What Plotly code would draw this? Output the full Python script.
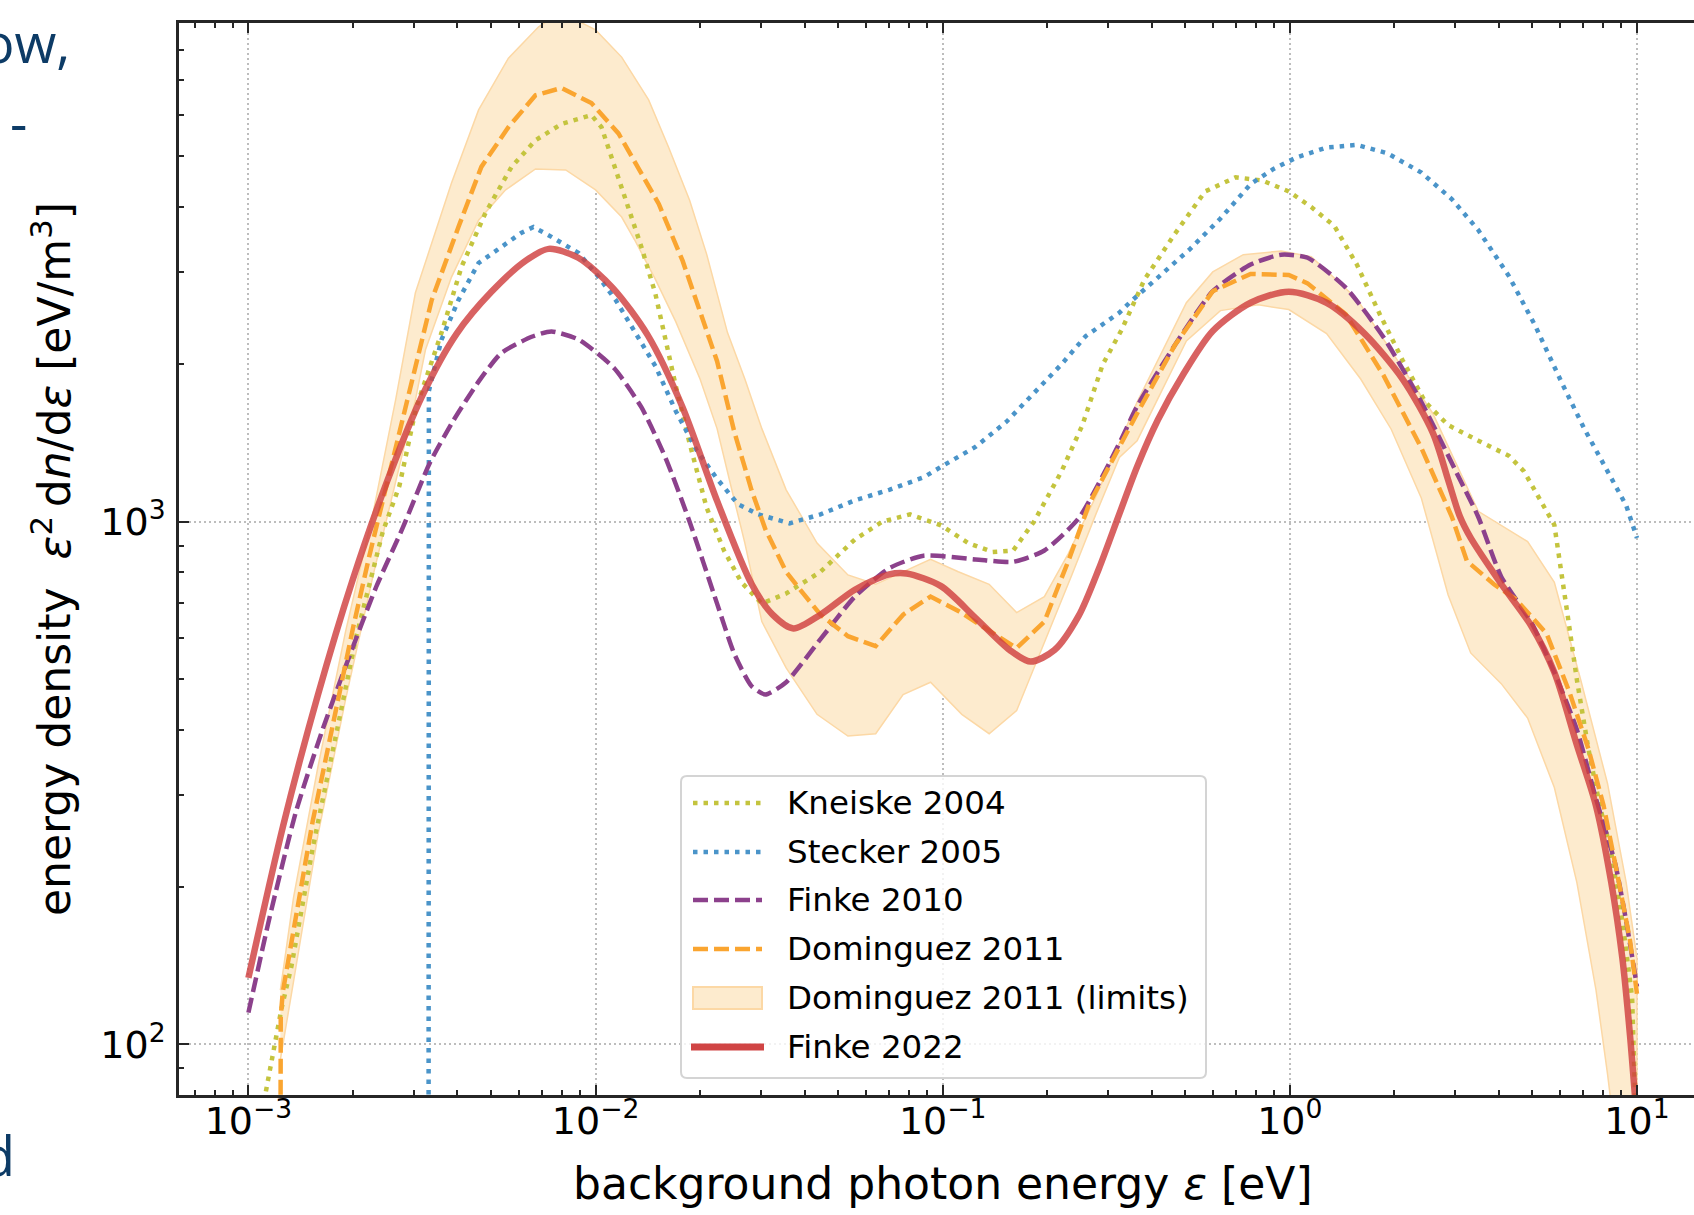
import plotly.graph_objects as go

# ---------------- data ----------------
kneiske_eps = [0.001, 0.001119, 0.001197, 0.001245, 0.00133, 0.001413, 0.001531, 0.001791, 0.002042, 0.002438,
               0.002723, 0.003041, 0.003597, 0.004111, 0.004819, 0.005728, 0.006714, 0.00798, 0.009727, 0.0104,
               0.01112, 0.01245, 0.01355, 0.01486, 0.01589, 0.01702, 0.01866, 0.02089, 0.02344, 0.0263,
               0.03013, 0.0354, 0.04446, 0.05585, 0.06699, 0.08054, 0.09886, 0.1186, 0.1393, 0.1596,
               0.1832, 0.2198, 0.2523, 0.2891, 0.3281, 0.3811, 0.4667, 0.5702, 0.6982, 0.8318,
               0.9931, 1.153, 1.343, 1.56, 1.816, 2.113, 2.455, 2.858, 3.491, 4.276,
               4.721, 5.224, 5.781, 6.31, 6.714, 7.244, 7.816, 8.433, 9.078, 9.683, 10.0]
kneiske_val = [54, 80, 102, 117, 141, 176, 237, 393, 601, 957,
               1172, 1652, 2296, 3076, 3899, 4775, 5370, 5768, 5998, 5689,
               4989, 3999, 3357, 2735, 2228, 1820, 1413, 1064, 881, 766,
               697, 729, 802, 925, 1000, 1033, 984, 910, 875, 881,
               1000, 1247, 1528, 2000, 2333, 2904, 3556, 4285, 4560, 4498,
               4285, 3999, 3681, 3105, 2495, 2037, 1694, 1531, 1429, 1337,
               1250, 1109, 986, 664, 498, 368, 286, 233, 172, 123, 60]

stecker_eps = [0.0033, 0.00331, 0.003597, 0.004027, 0.004603, 0.005358, 0.006124, 0.006622, 0.007464, 0.008933,
               0.01021, 0.01143, 0.01303, 0.01489, 0.01702, 0.01954, 0.02239, 0.0257, 0.02944, 0.03622,
               0.04446, 0.05585, 0.07015, 0.0881, 0.1012, 0.1242, 0.1524, 0.1832, 0.2198, 0.2582,
               0.3228, 0.3451, 0.4217, 0.5164, 0.631, 0.7709, 0.8974, 1.045, 1.276, 1.56,
               1.91, 2.393, 2.931, 3.491, 4.276, 5.093, 6.081, 7.063, 8.222, 9.311, 10.0]
stecker_val = [10, 1780, 2228, 2655, 3126, 3357, 3573, 3664, 3508, 3266,
               2938, 2655, 2296, 1982, 1629, 1371, 1208, 1081, 1033, 993,
               1033, 1099, 1151, 1216, 1285, 1390, 1552, 1762, 2000, 2265,
               2512, 2624, 2951, 3327, 3802, 4426, 4732, 4977, 5200, 5260,
               5070, 4656, 4140, 3614, 2951, 2371, 1841, 1503, 1250, 1074, 931]

finke10_eps = [0.001, 0.001151, 0.001371, 0.001637, 0.001954, 0.002333, 0.002786, 0.003327, 0.003882, 0.004634,
               0.005358, 0.006546, 0.007464, 0.008974, 0.0113, 0.01355, 0.01589, 0.01866, 0.02239, 0.02512,
               0.02812, 0.03083, 0.0354, 0.04446, 0.05585, 0.07015, 0.0881, 0.1242, 0.1596, 0.1963,
               0.2466, 0.3228, 0.3631, 0.4667, 0.5998, 0.7709, 0.9441, 1.125, 1.449, 1.862,
               2.393, 3.083, 3.491, 4.064, 4.966, 5.781, 6.714, 7.621, 8.65, 9.311, 10.0]
finke10_val = [115, 175, 279, 401, 553, 750, 975, 1294, 1556, 1866,
               2104, 2259, 2312, 2228, 1968, 1656, 1327, 1000, 697, 558,
               485, 467, 493, 596, 719, 815, 861, 847, 838, 881,
               1016, 1413, 1663, 2178, 2761, 3105, 3243, 3199, 2805, 2254,
               1694, 1208, 1021, 785, 641, 515, 400, 295, 222, 172, 129]

dom_eps = [0.001233, 0.001239, 0.001256, 0.001343, 0.001436, 0.001531, 0.001675, 0.001828, 0.002, 0.002234,
           0.002495, 0.002786, 0.003373, 0.004027, 0.004688, 0.00561, 0.006714, 0.00798, 0.009727, 0.01164,
           0.01358, 0.01521, 0.01782, 0.02, 0.02239, 0.02512, 0.02812, 0.03083, 0.0354, 0.03963,
           0.04446, 0.05333, 0.06412, 0.07691, 0.09226, 0.1109, 0.1393, 0.1633, 0.1963, 0.2301,
           0.2642, 0.3228, 0.3631, 0.4667, 0.5998, 0.7709, 0.9931, 1.125, 1.449, 1.862,
           2.393, 2.931, 3.236, 3.864, 4.487, 5.495, 6.383, 7.244, 8.017, 8.872, 9.55, 10.0]
dom_val = [20, 113, 126, 164, 210, 267, 355, 471, 625, 865,
           1172, 1556, 2655, 3664, 4775, 5689, 6546, 6761, 6324, 5534,
           4645, 4055, 3155, 2529, 2028, 1483, 1151, 968, 802, 729,
           664, 604, 578, 664, 719, 675, 614, 573, 644, 841,
           1081, 1390, 1611, 2178, 2761, 2979, 2965, 2858, 2495, 1905,
           1384, 1021, 841, 760, 710, 610, 473, 368, 286, 204, 158, 125]

dom_upper_eps = [0.001236, 0.001349, 0.001585, 0.001905, 0.002291, 0.002655, 0.003027, 0.003846, 0.004603, 0.00561,
                 0.006855, 0.007943, 0.01, 0.01189, 0.01422, 0.01622, 0.01866, 0.02089, 0.02399, 0.02692,
                 0.03013, 0.0354, 0.04345, 0.05333, 0.06412, 0.07691, 0.09226, 0.1109, 0.1361, 0.1633,
                 0.1963, 0.2301, 0.2761, 0.3228, 0.3631, 0.5035, 0.5998, 0.7345, 0.9441, 1.153,
                 1.56, 2.009, 2.582, 3.491, 4.842, 5.781, 6.887, 8.222, 9.311, 10.0]
dom_upper_val = [127, 191, 339, 617, 1047, 1710, 2742, 4446, 6138, 7709,
                 8851, 9441, 8730, 7745, 6412, 5212, 4121, 3251, 2301, 1875,
                 1507, 1151, 910, 791, 759, 802, 847, 802, 759, 670,
                 719, 869, 1117, 1413, 1694, 2624, 3006, 3243, 3296, 3214,
                 2667, 2070, 1611, 1047, 916, 766, 498, 316, 204, 146]

dom_lower_eps = [0.001236, 0.001349, 0.001585, 0.001905, 0.002291, 0.002754, 0.003027, 0.003236, 0.003846, 0.004603,
                 0.005508, 0.006714, 0.008204, 0.01, 0.01189, 0.01294, 0.01486, 0.01702, 0.02, 0.02239,
                 0.02455, 0.02692, 0.03013, 0.0354, 0.04345, 0.05333, 0.06412, 0.07691, 0.09226, 0.1135,
                 0.1361, 0.1633, 0.1963, 0.2355, 0.2761, 0.3228, 0.3631, 0.5035, 0.631, 0.811,
                 0.9931, 1.276, 1.6, 1.959, 2.393, 2.858, 3.319, 4.064, 4.842, 5.781,
                 6.714, 7.621, 8.222, 9.12, 10.0]
dom_lower_val = [93.5, 132, 251, 457, 794, 1318, 1710, 2133, 2938, 3776,
                 4315, 4732, 4710, 4315, 3828, 3467, 2911, 2415, 1875, 1507,
                 1169, 910, 644, 525, 428, 389, 393, 467, 493, 428,
                 393, 435, 586, 791, 1033, 1327, 1429, 2218, 2535, 2600,
                 2547, 2291, 1875, 1503, 1109, 724, 561, 490, 421, 310,
                 204, 127, 88, 50, 32]

finke22_eps = [0.001, 0.001259, 0.001585, 0.001995, 0.002512, 0.003162, 0.003981, 0.005012, 0.00631, 0.007328,
               0.008913, 0.01122, 0.01413, 0.01778, 0.02239, 0.02818, 0.03236, 0.03715, 0.04446, 0.05585,
               0.07015, 0.0787, 0.09886, 0.1242, 0.156, 0.1791, 0.2099, 0.2466, 0.2818, 0.3228,
               0.3631, 0.4169, 0.4909, 0.5998, 0.7709, 0.9931, 1.276, 1.641, 2.113, 2.582,
               2.858, 3.09, 3.319, 4.064, 4.966, 5.781, 6.714, 7.621, 8.433, 9.078, 9.55, 10.0]
finke22_val = [134, 262, 466, 773, 1197, 1738, 2291, 2754, 3162, 3327,
               3199, 2799, 2275, 1660, 1096, 759, 664, 625, 664, 741,
               793, 796, 753, 655, 568, 540, 568, 661, 813, 1035,
               1274, 1567, 1905, 2317, 2624, 2754, 2624, 2291, 1875, 1479,
               1202, 1023, 931, 760, 631, 515, 374, 286, 204, 146, 104, 71]

legend_labels = ["Kneiske 2004", "Stecker 2005", "Finke 2010", "Dominguez 2011",
                 "Dominguez 2011 (limits)", "Finke 2022"]

x_tick_vals = [1e-3, 1e-2, 1e-1, 1, 10]
x_tick_text = ["10<sup>\u22123</sup>", "10<sup>\u22122</sup>", "10<sup>\u22121</sup>", "10<sup>0</sup>", "10<sup>1</sup>"]
y_tick_vals = [100, 1000]
y_tick_text = ["10<sup>2</sup>", "10<sup>3</sup>"]
x_minor_vals = [m * 10.0 ** k for k in range(-4, 2) for m in range(2, 10)]
y_minor_vals = [m * 10.0 ** k for k in range(1, 4) for m in range(2, 10)]

x_label = "background photon energy <i>\u03b5</i> [eV]"
y_label = ("energy density\u00a0\u00a0<i>\u03b5</i><sup>2</sup>\u2009d<i>n</i>/d<i>\u03b5</i>"
           " [eV/m<sup>3</sup>]")

# ---------------- styling ----------------
C_KNE = "#C4C43E"
C_STE = "#4A94C9"
C_F10 = "#8C418C"
C_DOM = "#FAA530"
C_BAND_FILL = "#FDEBCE"
C_BAND_EDGE = "#FCD8A5"
C_F22 = "rgba(208,64,64,0.82)"
C_F22_LEG = "#D04444"
AX = "#262626"
GRID = "#BDBDBD"
FONT = "DejaVu Sans"
DOT = "4.5px,6px"
DASH = "15px,6px"
LW = 4.5

W, H = 1694, 1215
ML, MR, MT, MB = 179, 0, 23, 120
PW = W - ML - MR
PH = H - MT - MB


def px_x(X):
    return (X - ML) / PW


def px_y(Y):
    return (H - MB - Y) / PH


fig = go.Figure()

# limits band (polygon)
fig.add_trace(go.Scatter(
    x=dom_upper_eps + dom_lower_eps[::-1],
    y=dom_upper_val + dom_lower_val[::-1],
    mode="lines", fill="toself", fillcolor=C_BAND_FILL,
    line=dict(color=C_BAND_EDGE, width=1.5), name=legend_labels[4], hoverinfo="skip"))

fig.add_trace(go.Scatter(x=kneiske_eps, y=kneiske_val, mode="lines", name=legend_labels[0],
                         line=dict(color=C_KNE, width=LW, dash=DOT)))
fig.add_trace(go.Scatter(x=stecker_eps, y=stecker_val, mode="lines", name=legend_labels[1],
                         line=dict(color=C_STE, width=LW, dash=DOT)))
fig.add_trace(go.Scatter(x=finke10_eps, y=finke10_val, mode="lines", name=legend_labels[2],
                         line=dict(color=C_F10, width=LW, dash=DASH, shape="spline", smoothing=0.6)))
fig.add_trace(go.Scatter(x=dom_eps, y=dom_val, mode="lines", name=legend_labels[3],
                         line=dict(color=C_DOM, width=LW, dash=DASH)))
fig.add_trace(go.Scatter(x=finke22_eps, y=finke22_val, mode="lines", name=legend_labels[5],
                         line=dict(color=C_F22, width=6.5, shape="spline", smoothing=0.8)))

axis_common = dict(
    type="log", showline=True, linecolor=AX, linewidth=2.5,
    ticks="inside", ticklen=10, tickwidth=2, tickcolor=AX,
    showgrid=True, gridcolor=GRID, gridwidth=2, griddash="2px,3px",
    zeroline=False, tickmode="array",
    tickfont=dict(family=FONT, size=38, color="black"),
)

fig.update_layout(
    width=W, height=H,
    margin=dict(l=ML, r=MR, t=MT, b=MB, pad=0),
    paper_bgcolor="white", plot_bgcolor="white",
    showlegend=False,
    xaxis=dict(axis_common, range=[-3.2, 1.1643], tickvals=x_tick_vals, ticktext=x_tick_text,
               mirror="allticks", ticklabelstandoff=-9,
               minor=dict(tickmode="array", tickvals=x_minor_vals, ticks="inside", ticklen=5,
                          tickwidth=1.5, tickcolor=AX, showgrid=False)),
    yaxis=dict(axis_common, range=[1.90309, 3.95424], tickvals=y_tick_vals, ticktext=y_tick_text,
               mirror=False, ticklabelstandoff=3,
               minor=dict(tickmode="array", tickvals=y_minor_vals, ticks="inside", ticklen=5,
                          tickwidth=1.5, tickcolor=AX, showgrid=False)),
)

annotations = []
shapes = []

# axis titles
annotations.append(dict(text=x_label, xref="paper", yref="paper", x=px_x(943), y=px_y(1183),
                        xanchor="center", yanchor="middle", showarrow=False,
                        font=dict(family=FONT, size=44, color="black")))
annotations.append(dict(text=y_label, xref="paper", yref="paper", x=px_x(51), y=px_y(559),
                        xanchor="center", yanchor="middle", showarrow=False, textangle=-90,
                        font=dict(family=FONT, size=44, color="black")))

# slide text fragments visible at the left edge of the reference
frag_font = dict(family="Open Sans", size=54, color="#0D3B66")
annotations.append(dict(text="ow,", xref="paper", yref="paper", x=px_x(72), y=px_y(42),
                        xanchor="right", yanchor="middle", showarrow=False, font=frag_font))
annotations.append(dict(text="-", xref="paper", yref="paper", x=px_x(29), y=px_y(122),
                        xanchor="right", yanchor="middle", showarrow=False, font=frag_font))
annotations.append(dict(text="d", xref="paper", yref="paper", x=px_x(17), y=px_y(1155),
                        xanchor="right", yanchor="middle", showarrow=False, font=frag_font))

# legend (matplotlib style)
LX0, LX1, LY0, LY1 = 681, 1206, 776, 1078
r = 6
x0, x1 = px_x(LX0), px_x(LX1)
yt, yb = px_y(LY0), px_y(LY1)
rx, ry = r / PW, r / PH
path = (f"M{x0+rx},{yt} L{x1-rx},{yt} Q{x1},{yt} {x1},{yt-ry} L{x1},{yb+ry} Q{x1},{yb} {x1-rx},{yb} "
        f"L{x0+rx},{yb} Q{x0},{yb} {x0},{yb+ry} L{x0},{yt-ry} Q{x0},{yt} {x0+rx},{yt} Z")
shapes.append(dict(type="path", path=path, xref="paper", yref="paper",
                   fillcolor="rgba(255,255,255,0.8)", line=dict(color="#D4D4D4", width=2), layer="above"))

rows = [803, 852, 900, 949, 998, 1047]
SX0, SX1 = 693, 762
line_styles = [
    dict(color=C_KNE, width=LW, dash=DOT),
    dict(color=C_STE, width=LW, dash=DOT),
    dict(color=C_F10, width=LW, dash=DASH),
    dict(color=C_DOM, width=LW, dash=DASH),
    None,
    dict(color=C_F22_LEG, width=7),
]
for i, (lab, ry_) in enumerate(zip(legend_labels, rows)):
    if line_styles[i] is None:
        shapes.append(dict(type="rect", xref="paper", yref="paper",
                           x0=px_x(SX0), x1=px_x(SX1), y0=px_y(ry_ - 11), y1=px_y(ry_ + 11),
                           fillcolor=C_BAND_FILL, line=dict(color=C_BAND_EDGE, width=2), layer="above"))
    else:
        sx0 = SX0 - 2 if i == 5 else SX0
        sx1 = SX1 + 2 if i == 5 else SX1
        shapes.append(dict(type="line", xref="paper", yref="paper",
                           x0=px_x(sx0), x1=px_x(sx1), y0=px_y(ry_), y1=px_y(ry_),
                           line=line_styles[i], layer="above"))
    annotations.append(dict(text=lab, xref="paper", yref="paper", x=px_x(785), y=px_y(ry_),
                            xanchor="left", yanchor="middle", showarrow=False,
                            font=dict(family=FONT, size=32.5, color="black")))

fig.update_layout(annotations=annotations, shapes=shapes)

fig.write_html("out.html")
